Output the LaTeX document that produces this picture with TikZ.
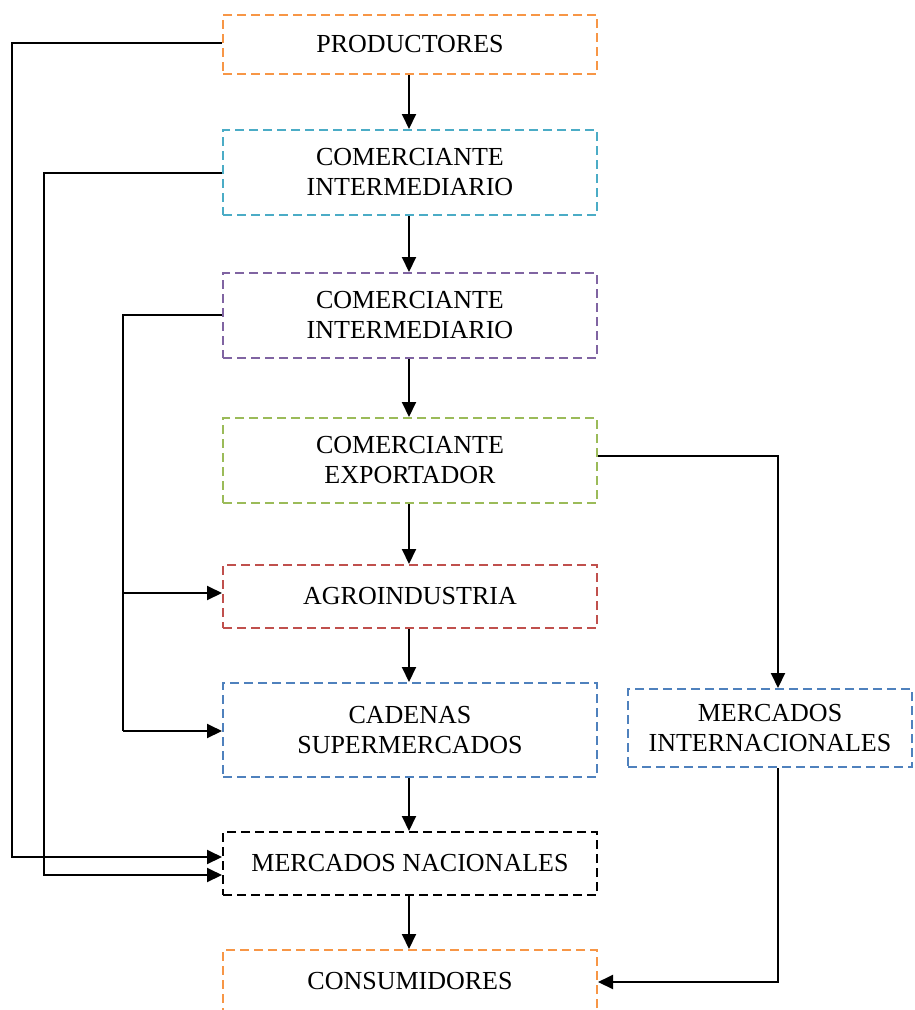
\documentclass[tikz,border=0pt]{standalone}
\usepackage{fontspec}
\setmainfont{Liberation Serif}
\usetikzlibrary{arrows.meta}
\definecolor{cOrange}{HTML}{F79646}
\definecolor{cCyan}{HTML}{4BACC6}
\definecolor{cPurple}{HTML}{8064A2}
\definecolor{cGreen}{HTML}{9BBB59}
\definecolor{cRed}{HTML}{C0504D}
\definecolor{cBlue}{HTML}{4F81BD}
\begin{document}
\begin{tikzpicture}[x=1pt,y=-1pt,
  box/.style={draw, line width=2pt, dash pattern=on 9pt off 5pt, minimum width=374pt,
    align=center, inner sep=0pt, font=\fontsize{26}{30}\selectfont},
  conn/.style={line width=2pt, -{Triangle[length=15pt,width=14pt]}},
  plain/.style={line width=2pt}]
\useasboundingbox (0,0) rectangle (914,1010);
\node[box, cOrange, minimum height=59pt, text=black] (prod) at (410,44.5) {PRODUCTORES};
\node[box, cCyan, minimum height=85pt, text=black] (ci1) at (410,172.5) {COMERCIANTE\\INTERMEDIARIO};
\node[box, cPurple, minimum height=85pt, text=black] (ci2) at (410,315.5) {COMERCIANTE\\INTERMEDIARIO};
\node[box, cGreen, minimum height=85pt, text=black] (exp) at (410,460.5) {COMERCIANTE\\EXPORTADOR};
\node[box, cRed, minimum height=63pt, text=black] (agro) at (410,596.5) {AGROINDUSTRIA};
\node[box, cBlue, minimum height=94pt, text=black] (cad) at (410,730) {CADENAS\\SUPERMERCADOS};
\node[box, black, minimum height=63pt, text=black] (mn) at (410,863.5) {MERCADOS NACIONALES};
\node[box, cOrange, minimum height=62pt, text=black] (cons) at (410,981) {CONSUMIDORES};
\node[box, cBlue, minimum width=284pt, minimum height=78pt, text=black] (mi) at (770,728) {MERCADOS\\INTERNACIONALES};
% vertical chain
\draw[conn] (prod.south -| 409,0) -- (ci1.north -| 409,0);
\draw[conn] (ci1.south -| 409,0) -- (ci2.north -| 409,0);
\draw[conn] (ci2.south -| 409,0) -- (exp.north -| 409,0);
\draw[conn] (exp.south -| 409,0) -- (agro.north -| 409,0);
\draw[conn] (agro.south -| 409,0) -- (cad.north -| 409,0);
\draw[conn] (cad.south -| 409,0) -- (mn.north -| 409,0);
\draw[conn] (mn.south -| 409,0) -- (cons.north -| 409,0);
% left feedback lines
\coordinate (l1) at (12,43);
\coordinate (l2) at (44,173);
\coordinate (l3) at (123,315);
\draw[conn] (prod.west |- l1) -- (l1) -- (12,857) -- (mn.west |- 0,857);
\draw[conn] (ci1.west |- l2) -- (l2) -- (44,875) -- (mn.west |- 0,875);
\draw[plain] (ci2.west |- l3) -- (l3) -- (123,731);
\draw[conn] (123,593) -- (agro.west |- 0,593);
\draw[conn] (123,731) -- (cad.west |- 0,731);
% right side
\coordinate (r1) at (778,456);
\draw[conn] (exp.east |- r1) -- (r1) -- (mi.north -| r1);
\coordinate (r2) at (778,982);
\draw[conn] (mi.south -| r2) -- (r2) -- (cons.east |- r2);
\end{tikzpicture}
\end{document}
